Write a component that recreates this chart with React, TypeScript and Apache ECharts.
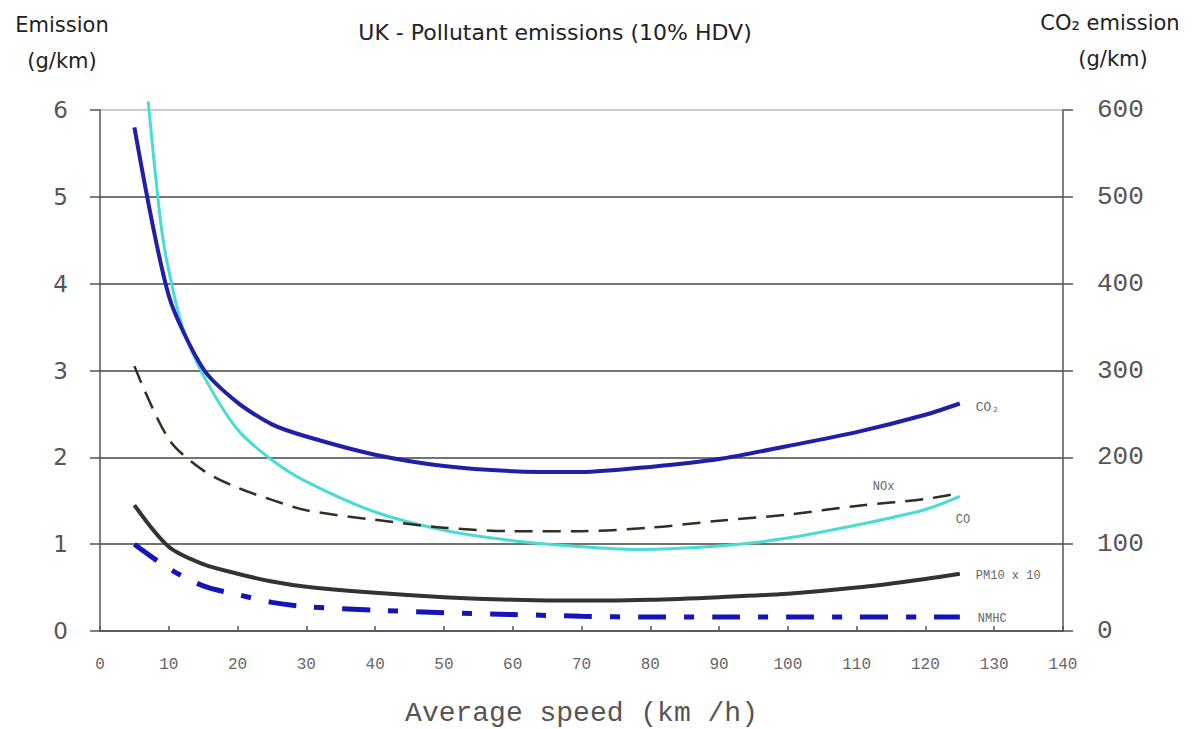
import React, { useEffect, useRef } from "react";
import * as echarts from "echarts";

const speeds = [5, 10, 15, 20, 25, 30, 40, 50, 60, 70, 80, 90, 100, 110, 120, 125];
const co2 = [580, 386, 302, 263, 238, 224, 203, 190, 184, 183, 189, 198, 213, 229, 249, 262];
const nox = [3.05, 2.21, 1.85, 1.65, 1.51, 1.39, 1.28, 1.19, 1.15, 1.15, 1.19, 1.27, 1.34, 1.44, 1.52, 1.59];
const pm10 = [1.45, 0.97, 0.77, 0.66, 0.57, 0.51, 0.44, 0.39, 0.36, 0.35, 0.36, 0.39, 0.43, 0.5, 0.6, 0.66];
const nmhc = [1.0, 0.72, 0.52, 0.42, 0.33, 0.28, 0.24, 0.21, 0.19, 0.17, 0.16, 0.16, 0.16, 0.16, 0.16, 0.16];
const coSpeeds = [7, 8, 9, 10, 12, 15, 20, 25, 30, 40, 50, 60, 70, 78, 90, 100, 110, 120, 125];
const co = [6.1, 5.3, 4.6, 4.15, 3.5, 2.95, 2.32, 1.97, 1.72, 1.37, 1.16, 1.04, 0.97, 0.94, 0.98, 1.07, 1.22, 1.4, 1.55];
const xTicks = [0, 140, 10];
const leftTicks = [0, 6, 1];
const rightTicks = [0, 600, 100];

const pairs = (xs: number[], ys: number[]) => xs.map((x, i) => [x, ys[i]]);

const labelFont = { fontFamily: "Liberation Mono", fontSize: 12, color: "#666" };
const headFont = "21px 'DejaVu Sans'";

export default function App() {
  const ref = useRef<HTMLDivElement>(null);
  useEffect(() => {
    const chart = echarts.init(ref.current!, null, { renderer: "svg" });
    chart.setOption({
      animation: false,
      backgroundColor: "#fff",
      title: {
        text: "UK - Pollutant emissions (10% HDV)",
        left: 550,
        top: 16,
        textAlign: "center",
        textStyle: { fontFamily: "DejaVu Sans", fontSize: 22, fontWeight: "normal", color: "#222" },
      },
      graphic: [
        { type: "text", x: 62, y: 14, style: { text: "Emission", font: headFont, fill: "#222", textAlign: "center" } },
        { type: "text", x: 62, y: 50, style: { text: "(g/km)", font: headFont, fill: "#222", textAlign: "center" } },
        { type: "text", x: 1110, y: 12, style: { text: "CO₂ emission", font: headFont, fill: "#222", textAlign: "center" } },
        { type: "text", x: 1113, y: 48, style: { text: "(g/km)", font: headFont, fill: "#222", textAlign: "center" } },
      ],
      grid: { left: 100, right: 131, top: 110, bottom: 98, containLabel: false, outerBoundsMode: "none" },
      xAxis: {
        type: "value",
        min: xTicks[0],
        max: xTicks[1],
        interval: xTicks[2],
        name: "Average speed (km /h)",
        nameLocation: "middle",
        nameGap: 68,
        nameTextStyle: { fontFamily: "Liberation Mono", fontSize: 28, color: "#555" },
        axisLine: { lineStyle: { color: "#555", width: 1.5 } },
        axisTick: { inside: true, length: 5, lineStyle: { color: "#555", width: 1.5 } },
        axisLabel: { fontFamily: "Liberation Mono", fontSize: 16, color: "#666", margin: 26 },
        splitLine: { show: false },
      },
      yAxis: [
        {
          type: "value",
          min: leftTicks[0],
          max: leftTicks[1],
          interval: leftTicks[2],
          position: "left",
          axisLine: { show: true, lineStyle: { color: "#555", width: 1.5 } },
          axisTick: { show: true, length: 10, lineStyle: { color: "#555", width: 1.5 } },
          axisLabel: { fontFamily: "DejaVu Sans", fontSize: 23, color: "#555", margin: 32 },
          splitLine: {
            show: true,
            lineStyle: { color: ["#444", "#444", "#444", "#444", "#444", "#444", "#bbb"], width: 1.5 },
          },
        },
        {
          type: "value",
          min: rightTicks[0],
          max: rightTicks[1],
          interval: rightTicks[2],
          position: "right",
          axisLine: { show: true, lineStyle: { color: "#555", width: 1.5 } },
          axisTick: { show: true, length: 10, lineStyle: { color: "#555", width: 1.5 } },
          axisLabel: { fontFamily: "Liberation Mono", fontSize: 26, color: "#555", margin: 34 },
          splitLine: { show: false },
        },
      ],
      series: [
        {
          name: "CO2",
          type: "line",
          yAxisIndex: 1,
          data: pairs(speeds, co2),
          smooth: 0.25,
          symbol: "none",
          lineStyle: { color: "#1f1fa8", width: 4 },
          endLabel: { show: true, formatter: "CO₂", offset: [8, 4], ...labelFont, fontSize: 13 },
          z: 4,
        },
        {
          name: "CO",
          type: "line",
          data: pairs(coSpeeds, co),
          smooth: 0.3,
          symbol: "none",
          clip: false,
          lineStyle: { color: "#48dcd4", width: 3 },
          endLabel: { show: true, formatter: "CO", offset: [-12, 24], ...labelFont },
          z: 3,
        },
        {
          name: "NOx",
          type: "line",
          data: pairs(speeds, nox),
          smooth: 0.3,
          symbol: "none",
          lineStyle: { color: "#2f2f22", width: 2.5, type: [18, 10] },
          endLabel: { show: true, formatter: "NOx", offset: [-95, -6], ...labelFont },
          z: 3,
        },
        {
          name: "PM10 x 10",
          type: "line",
          data: pairs(speeds, pm10),
          smooth: 0.3,
          symbol: "none",
          lineStyle: { color: "#333", width: 4 },
          endLabel: { show: true, formatter: "PM10 x 10", offset: [8, 2], ...labelFont },
        },
        {
          name: "NMHC",
          type: "line",
          data: pairs(speeds, nmhc),
          smooth: 0.3,
          symbol: "none",
          lineStyle: { color: "#1414b8", width: 5, type: [28, 18, 10, 18] },
          endLabel: { show: true, formatter: "NMHC", offset: [10, 2], ...labelFont },
        },
      ],
    });
    return () => chart.dispose();
  }, []);
  return <div ref={ref} style={{ width: 1194, height: 729, position: "absolute", left: 0, top: 0 }} />;
}
